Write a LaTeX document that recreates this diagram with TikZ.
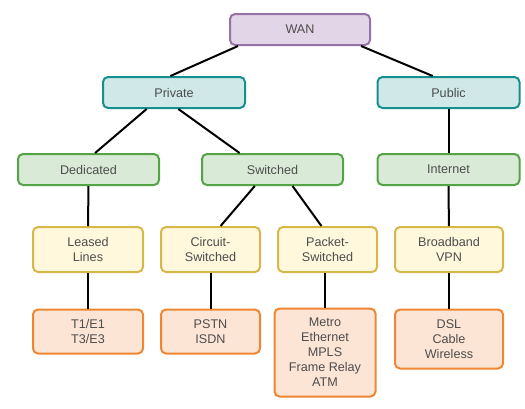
\documentclass[tikz,border=0pt]{standalone}
\usepackage{fontspec}
\setmainfont{Liberation Sans}
\usetikzlibrary{calc}
\definecolor{txt}{HTML}{4D4D4D}
\definecolor{purpf}{HTML}{E1D5E7}
\definecolor{purpd}{HTML}{9673A6}
\definecolor{tealf}{HTML}{D0E8E8}
\definecolor{teald}{HTML}{15908E}
\definecolor{grnf}{HTML}{D9EBD6}
\definecolor{grnd}{HTML}{55A347}
\definecolor{yelf}{HTML}{FFF8DC}
\definecolor{yeld}{HTML}{D6B84A}
\definecolor{orgf}{HTML}{FDE5D5}
\definecolor{orgd}{HTML}{F08532}
\tikzset{
  box/.style={rounded corners=5pt, line width=2pt, align=center, inner sep=0pt,
    text=txt, font=\fontsize{12.6}{15}\selectfont},
  wanbox/.style={box, fill=purpf, draw=purpd},
  tealbox/.style={box, fill=tealf, draw=teald},
  grnbox/.style={box, fill=grnf, draw=grnd},
  yelbox/.style={box, fill=yelf, draw=yeld},
  orgbox/.style={box, fill=orgf, draw=orgd},
  link/.style={line width=2pt, black}
}
\begin{document}
\begin{tikzpicture}[x=1pt,y=-1pt]
\useasboundingbox (0,0) rectangle (525,408);
\node[wanbox, minimum width=140pt, minimum height=31pt] (wan) at (300,29.5) {WAN};
\node[tealbox, minimum width=142pt, minimum height=31pt] (priv) at (174,92.5) {Private};
\node[tealbox, minimum width=142pt, minimum height=31pt] (pub) at (448.5,92.5) {Public};
\node[grnbox, minimum width=141pt, minimum height=31pt] (ded) at (88.5,169.5) {Dedicated};
\node[grnbox, minimum width=141pt, minimum height=31pt] (sw) at (272.5,169.5) {Switched};
\node[grnbox, minimum width=142pt, minimum height=31pt] (inet) at (448.5,169.5) {Internet};
\node[yelbox, minimum width=110pt, minimum height=45pt] (leased) at (88,249.5) {Leased\\Lines};
\node[yelbox, minimum width=99pt, minimum height=45pt] (circ) at (210.5,249.5) {Circuit-\\Switched};
\node[yelbox, minimum width=99pt, minimum height=45pt] (pack) at (327.5,249.5) {Packet-\\Switched};
\node[yelbox, minimum width=108pt, minimum height=45pt] (bb) at (449,249.5) {Broadband\\VPN};
\node[orgbox, minimum width=110pt, minimum height=44pt] (t1) at (88,331.5) {T1/E1\\T3/E3};
\node[orgbox, minimum width=99pt, minimum height=44pt] (pstn) at (210.5,331.5) {PSTN\\ISDN};
\node[orgbox, minimum width=101pt, minimum height=88pt] (metro) at (325,352.5) {Metro\\Ethernet\\MPLS\\Frame Relay\\ATM};
\node[orgbox, minimum width=108pt, minimum height=59pt] (dsl) at (449,339) {DSL\\Cable\\Wireless};
% connectors
\draw[link] ($(wan.south west)!0.064!(wan.south east)$) -- ($(priv.north west)!0.475!(priv.north east)$);
\draw[link] ($(wan.south west)!0.93!(wan.south east)$) -- ($(pub.north west)!0.39!(pub.north east)$);
\draw[link] ($(priv.south west)!0.31!(priv.south east)$) -- ($(ded.north west)!0.546!(ded.north east)$);
\draw[link] ($(priv.south west)!0.53!(priv.south east)$) -- ($(sw.north west)!0.27!(sw.north east)$);
\draw[link] ($(sw.south west)!0.376!(sw.south east)$) -- ($(circ.north west)!0.6!(circ.north east)$);
\draw[link] ($(sw.south west)!0.64!(sw.south east)$) -- ($(pack.north west)!0.44!(pack.north east)$);
\draw[link] (pub) -- (inet);
\draw[link] (ded.south) -- (leased.north);
\draw[link] (leased) -- (t1);
\draw[link] (inet) -- (bb);
\draw[link] (bb) -- (dsl);
\draw[link] (circ.south -| pstn.north) -- (pstn.north);
\draw[link] (pack.south -| metro.north) -- (metro.north);
\end{tikzpicture}
\end{document}
